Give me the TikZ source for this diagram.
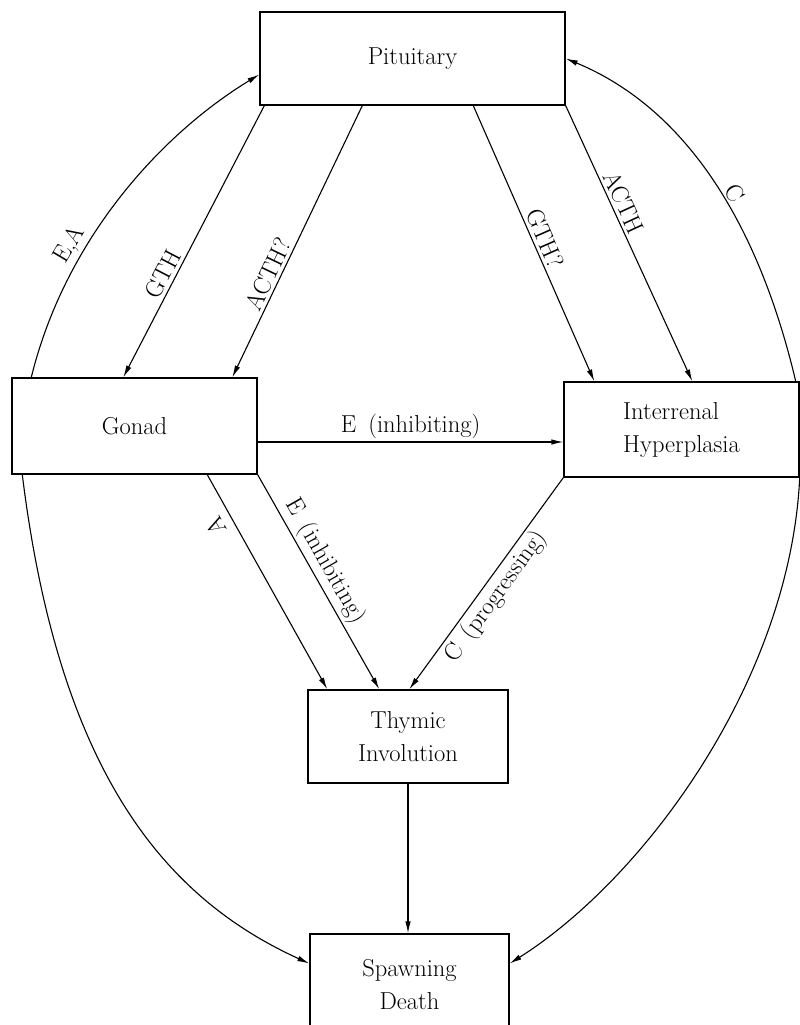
\documentclass[tikz,border=0pt]{standalone}
\usepackage{fontspec}
\setmainfont{Latin Modern Roman}
\usetikzlibrary{arrows.meta,calc}
\begin{document}
\begin{tikzpicture}[x=1pt,y=-1pt,
  box/.style={draw,line width=1.4pt,rectangle,inner sep=0pt,font=\fontsize{24.5}{33}\selectfont,align=center},
  conn/.style={line width=1.1pt,-{Latex[length=12pt,width=5.5pt]}},
  lbl/.style={font=\fontsize{24.5}{26}\selectfont,inner sep=3pt,sloped}]
\useasboundingbox (0,0) rectangle (800,1025);
% boxes
\node[box,minimum width=305pt,minimum height=93pt] (pit) at (412.5,58.5) {Pituitary};
\node[box,minimum width=245pt,minimum height=96pt] (gon) at (134.5,426) {Gonad};
\node[box,minimum width=235pt,minimum height=95pt,align=left] (int) at (681.5,429.5) {Interrenal\\Hyperplasia};
\node[box,minimum width=200pt,minimum height=93pt] (thy) at (408,736.5) {Thymic\\Involution};
\node[box,minimum width=199pt,minimum height=101pt] (spa) at (409.5,984.5) {Spawning\\Death};
% connectors
\draw[conn] ($(gon.north west)+(20,0)$) .. controls (65,240) and (160,135) .. ($(pit.west)+(0,16)$)
  node[lbl,pos=0.33,above]{E,A};
\draw[conn] ($(pit.south west)+(5,0)$) -- ($(gon.north west)+(112,0)$)
  node[lbl,pos=0.64,above]{GTH};
\draw[conn] ($(pit.south west)+(103,0)$) -- ($(gon.north west)+(221,0)$)
  node[lbl,pos=0.64,above]{ACTH?};
\draw[conn] ($(pit.south west)+(214,0)$) -- ($(int.north west)+(31,0)$)
  node[lbl,pos=0.5,above]{GTH?};
\draw[conn] (pit.south east) -- ($(int.north west)+(129,0)$)
  node[lbl,pos=0.37,above]{ACTH};
\draw[conn] ($(int.north east)+(-4,0)$) .. controls (760,230) and (690,110) .. (pit.east)
  node[lbl,pos=0.45,above]{C};
\draw[conn] ($(gon.east)+(0,16)$) -- ($(int.west)+(0,12.5)$)
  node[lbl,midway,above]{E\enspace(inhibiting)};
\draw[conn] ($(gon.south west)+(196,0)$) -- ($(thy.north west)+(20,0)$)
  node[lbl,pos=0.2,rotate=180,anchor=south,inner sep=8pt]{A};
\draw[conn] (gon.south east) -- ($(thy.north west)+(72,0)$)
  node[lbl,pos=0.44,above]{E\enspace(inhibiting)};
\draw[conn] (int.south west) -- ($(thy.north west)+(102,0)$)
  node[lbl,pos=0.52,below]{C\enspace(progressing)};
\draw[conn] (thy.south) -- (thy.south |- spa.north);
\draw[conn] ($(gon.south west)+(11,0)$) .. controls (60,780) and (170,900) .. ($(spa.west)+(0,-21)$);
\draw[conn] (int.south east) .. controls (790,680) and (645,878) .. ($(spa.east)+(0,-21)$);
\end{tikzpicture}
\end{document}
